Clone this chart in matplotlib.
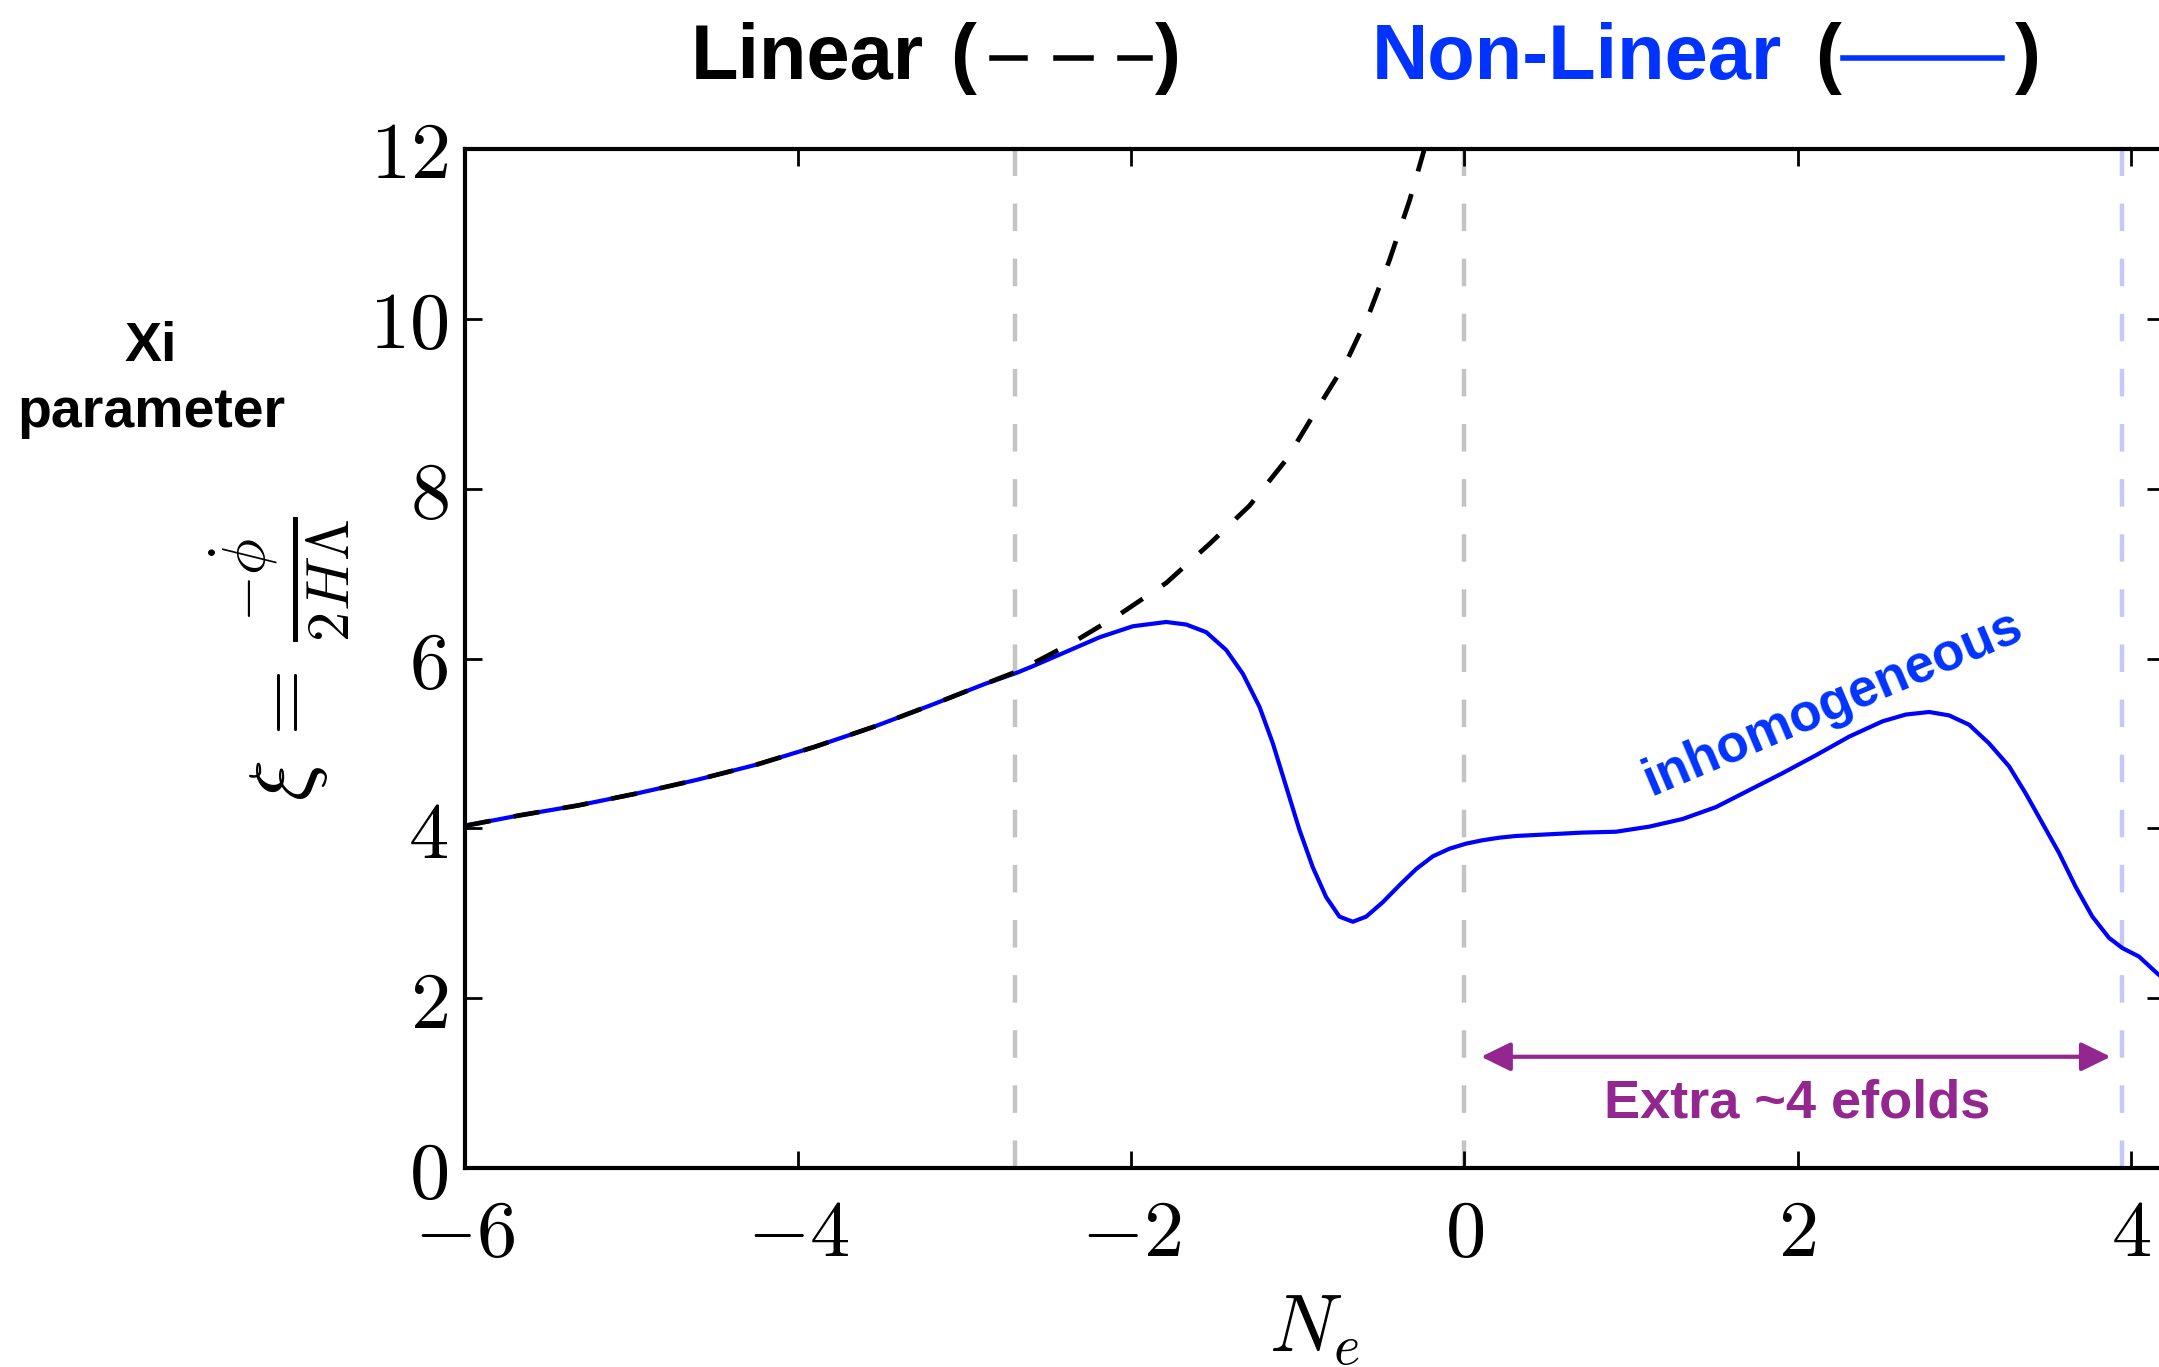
import numpy as np
import matplotlib
matplotlib.use("Agg")
import matplotlib.pyplot as plt
from matplotlib.lines import Line2D

plt.rcParams['mathtext.fontset'] = 'cm'
plt.rcParams['font.family'] = ['Liberation Sans', 'DejaVu Sans']

# non-linear (full) evolution of xi
ne_nl = [-6.0, -5.68, -5.32, -4.97, -4.61, -4.25, -3.9, -3.54, -3.19, -2.88,
         -2.69, -2.59, -2.39, -2.19, -1.99, -1.79, -1.67, -1.55, -1.43, -1.33,
         -1.23, -1.15, -1.07, -0.99, -0.91, -0.83, -0.75, -0.67, -0.59, -0.49,
         -0.39, -0.29, -0.19, -0.09, 0.01, 0.11, 0.21, 0.31, 0.51, 0.71,
         0.91, 1.11, 1.31, 1.51, 1.71, 1.91, 2.11, 2.31, 2.51, 2.65,
         2.79, 2.91, 3.03, 3.15, 3.27, 3.37, 3.47, 3.57, 3.67, 3.77,
         3.87, 3.95, 4.05, 4.16, 4.22]
xi_nl = [4.03, 4.15, 4.27, 4.41, 4.57, 4.75, 4.96, 5.2, 5.46, 5.7,
         5.83, 5.91, 6.08, 6.25, 6.38, 6.43, 6.4, 6.31, 6.1, 5.82,
         5.43, 5.0, 4.49, 3.98, 3.54, 3.19, 2.96, 2.9, 2.96, 3.13,
         3.33, 3.52, 3.67, 3.76, 3.82, 3.86, 3.89, 3.91, 3.93, 3.95,
         3.96, 4.02, 4.11, 4.25, 4.45, 4.65, 4.86, 5.08, 5.26, 5.34,
         5.37, 5.33, 5.22, 5.0, 4.73, 4.41, 4.06, 3.71, 3.31, 2.96,
         2.71, 2.59, 2.49, 2.29, 2.2]

# linear approximation
ne_lin = [-6.0, -5.68, -5.32, -4.97, -4.61, -4.25, -3.9, -3.54, -3.19, -2.88,
          -2.67, -2.35, -2.07, -1.79, -1.53, -1.29, -1.07, -0.89, -0.71, -0.57,
          -0.45, -0.33, -0.24, -0.2]
xi_lin = [4.03, 4.15, 4.27, 4.41, 4.57, 4.75, 4.96, 5.2, 5.46, 5.7,
          5.86, 6.19, 6.52, 6.89, 7.35, 7.8, 8.34, 8.92, 9.49, 10.07,
          10.69, 11.39, 12.0, 12.3]

# markers for the efold window
ne_gray = [-2.7, 0.0]
ne_end = 3.95
arrow_from, arrow_to, arrow_y = 0.1, 3.88, 1.31

xticks = [-6, -4, -2, 0, 2, 4]
yticks = [0, 2, 4, 6, 8, 10, 12]

W, H = 2159, 1367
fig = plt.figure(figsize=(W / 200, H / 200), dpi=200)


def fx(px):
    return px / W


def fy(py):
    return 1 - py / H


ax = fig.add_axes([fx(465), fy(1168), fx(2164) - fx(465), fy(149) - fy(1168)])

purple = '#93278f'
tblue = '#0033ff'

for x in ne_gray:
    ax.axvline(x, color='#c4c4c4', lw=1.6, ls=(0, (6.2, 6.2)), zorder=1)
ax.axvline(ne_end, color='#c6c8fa', lw=1.6, ls=(0, (6.2, 6.2)), zorder=1)

ax.plot(ne_nl, xi_nl, color='#0000ff', lw=1.5, zorder=3)
ax.plot(ne_lin, xi_lin, color='black', lw=1.7, ls=(0, (5.5, 5)), zorder=4)

ax.annotate('', xy=(arrow_to, arrow_y), xytext=(arrow_from, arrow_y),
            arrowprops=dict(arrowstyle='<|-|>,head_length=0.45,head_width=0.22',
                            mutation_scale=20, lw=1.5, color=purple,
                            shrinkA=0, shrinkB=0))
ax.text(2.0, 0.76, 'Extra ~4 efolds', color=purple, fontsize=19.5,
        fontweight='bold', ha='center', va='center')
ax.text(2.21, 5.47, 'inhomogeneous', color=tblue, fontsize=19, fontweight='bold',
        rotation=23, rotation_mode='anchor', ha='center', va='center')

ax.set_xlim(-6, 4.2)
ax.set_ylim(0, 12)
ax.set_xticks(xticks)
ax.set_yticks(yticks)
ax.set_xticklabels([f'${v}$' for v in xticks])
ax.set_yticklabels([f'${v}$' for v in yticks])
ax.tick_params(direction='in', length=6, width=1, labelsize=29,
               top=True, right=True)
ax.tick_params(axis='x', pad=10.5)
ax.tick_params(axis='y', pad=6)
for sp in ax.spines.values():
    sp.set_linewidth(1.5)

ax.set_xlabel(r'$N_e$', fontsize=29, labelpad=7)
ax.set_ylabel(r'$\xi\, = \,\frac{-\dot{\phi}}{2H\Lambda}$', fontsize=31, labelpad=6)

# header: Linear (- - -)   Non-Linear (----)
base = fy(79)
fig.text(fx(691), base, 'Linear', fontsize=28, fontweight='bold', va='baseline')
fig.text(fx(950), base, '(', fontsize=28, fontweight='bold', va='baseline')
for a, b in [(992, 1025), (1056, 1091), (1120, 1150)]:
    fig.add_artist(Line2D([fx(a), fx(b)], [fy(58), fy(58)], color='black', lw=2))
fig.text(fx(1155), base, ')', fontsize=28, fontweight='bold', va='baseline')
fig.text(fx(1372), base, 'Non-Linear', fontsize=28, fontweight='bold',
         color=tblue, va='baseline')
fig.text(fx(1815), base, '(', fontsize=28, fontweight='bold', va='baseline')
fig.add_artist(Line2D([fx(1843), fx(2002)], [fy(58), fy(58)], color=tblue, lw=2))
fig.text(fx(2015), base, ')', fontsize=28, fontweight='bold', va='baseline')

fig.text(fx(151), fy(361), 'Xi', fontsize=20, fontweight='bold',
         ha='center', va='baseline')
fig.text(fx(151), fy(427), 'parameter', fontsize=20, fontweight='bold',
         ha='center', va='baseline')

fig.savefig('out.png', dpi=200)
